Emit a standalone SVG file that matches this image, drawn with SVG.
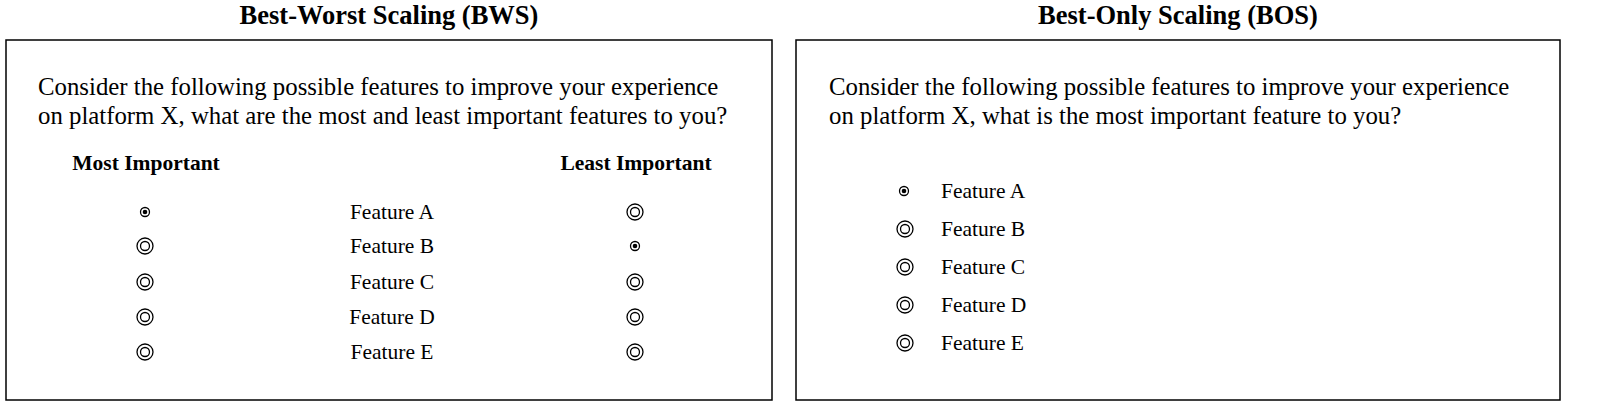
<svg xmlns="http://www.w3.org/2000/svg" width="1600" height="412" viewBox="0 0 1600 412">
<style>
text{font-family:"Liberation Serif","Times New Roman",serif;fill:#000}
.t{font-size:26.5px;font-weight:bold;text-anchor:middle}
.b{font-size:24.8px}
.h{font-size:21.5px;font-weight:bold;text-anchor:middle}
.f{font-size:21.5px}
.fc{font-size:21.5px;text-anchor:middle}
.box{fill:#fff;stroke:#000;stroke-width:1.5}
.o{fill:none;stroke:#000;stroke-width:1.3}
</style>
<defs>
<g id="sel"><circle r="4.5" class="o"/><circle r="2.3" fill="#000"/></g>
<g id="un"><circle r="8" class="o"/><circle r="4.5" class="o"/></g>
</defs>
<rect width="1600" height="412" fill="#fff"/>
<g id="bws">
<text class="t" x="389" y="24">Best-Worst Scaling (BWS)</text>
<rect class="box" x="6" y="40" width="766" height="360"/>
<text class="b" x="38" y="95">Consider the following possible features to improve your experience</text>
<text class="b" x="38" y="124">on platform X, what are the most and least important features to you?</text>
<text class="h" x="146" y="170">Most Important</text>
<text class="h" x="636" y="170">Least Important</text>
<use href="#sel" x="145" y="212"/><text class="fc" x="392" y="219">Feature A</text><use href="#un" x="635" y="212"/>
<use href="#un" x="145" y="246"/><text class="fc" x="392" y="253">Feature B</text><use href="#sel" x="635" y="246"/>
<use href="#un" x="145" y="282"/><text class="fc" x="392" y="289">Feature C</text><use href="#un" x="635" y="282"/>
<use href="#un" x="145" y="317"/><text class="fc" x="392" y="324">Feature D</text><use href="#un" x="635" y="317"/>
<use href="#un" x="145" y="352"/><text class="fc" x="392" y="359">Feature E</text><use href="#un" x="635" y="352"/>
</g>
<g id="bos">
<text class="t" x="1178" y="24">Best-Only Scaling (BOS)</text>
<rect class="box" x="796" y="40" width="764" height="360"/>
<text class="b" x="829" y="95">Consider the following possible features to improve your experience</text>
<text class="b" x="829" y="124">on platform X, what is the most important feature to you?</text>
<use href="#sel" x="904" y="191"/><text class="f" x="941" y="198">Feature A</text>
<use href="#un" x="905" y="229"/><text class="f" x="941" y="236">Feature B</text>
<use href="#un" x="905" y="267"/><text class="f" x="941" y="274">Feature C</text>
<use href="#un" x="905" y="305"/><text class="f" x="941" y="312">Feature D</text>
<use href="#un" x="905" y="343"/><text class="f" x="941" y="350">Feature E</text>
</g>
</svg>
